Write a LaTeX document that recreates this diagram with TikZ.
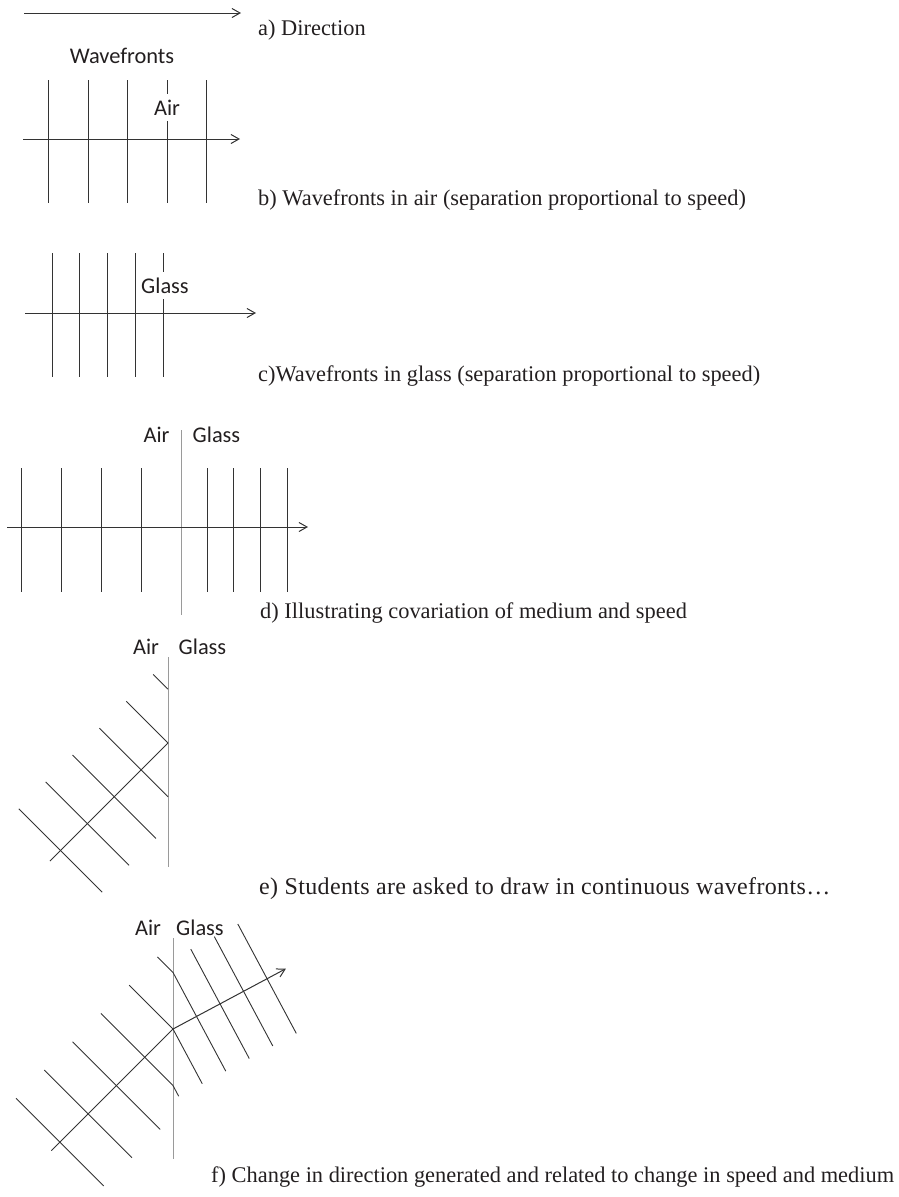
\documentclass[tikz,border=0pt]{standalone}
\usepackage{fontspec}
\setmainfont{Liberation Serif}
\newfontfamily\spacedserif[LetterSpace=1.5]{Liberation Serif}
\newfontfamily\labelsans{Carlito}
\usetikzlibrary{arrows.meta}
\definecolor{ink}{HTML}{231F20}
\definecolor{wave}{HTML}{333333}
\definecolor{bnd}{HTML}{9A9A9A}
\begin{document}
\begin{tikzpicture}[x=1pt,y=-1pt,
  wavefront/.style={draw=wave, line width=0.9pt},
  boundary/.style={draw=bnd, line width=0.9pt},
  ray/.style={draw=wave, line width=1pt},
  arrowray/.style={ray, -{Straight Barb[length=8pt,width=9pt]}},
  caption/.style={anchor=base west, text=ink, font=\fontsize{22.4}{26}\selectfont, inner sep=0pt},
  spacedcaption/.style={caption, font=\spacedserif\fontsize{24}{28}\selectfont},
  medium/.style={anchor=base, text=ink, font=\labelsans\fontsize{22.4}{26}\selectfont, inner sep=0pt},
  gaplabel/.style={medium, fill=white, text height=15pt, text depth=0pt, inner xsep=2pt, inner ysep=6pt}]
\useasboundingbox (0,0) rectangle (899,1197);

% ---------- a) ----------
\coordinate (a0) at (24,13);
\coordinate (a1) at (241,13);
\draw[arrowray] (a0) -- (a1);
\node[caption] (capa) at (258,35) {a) Direction};

% ---------- b) ----------
\node[medium] (wfb) at (122,63) {Wavefronts};
\foreach \x in {48.5,88,127.5,167,206.5} \draw[wavefront] (\x,80) -- (\x,203);
\coordinate (b0) at (23,139);
\coordinate (b1) at (240,139);
\draw[arrowray] (b0) -- (b1);
\node[gaplabel] (airb) at (167,115) {Air};
\node[caption] (capb) at (258,205) {b) Wavefronts in air (separation proportional to speed)};

% ---------- c) ----------
\foreach \x in {52,79.75,107.5,135.25,163} \draw[wavefront] (\x,253) -- (\x,377);
\coordinate (c0) at (25,313);
\coordinate (c1) at (256,313);
\draw[arrowray] (c0) -- (c1);
\node[gaplabel] (glassc) at (165,293) {Glass};
\node[caption] (capc) at (258,381) {c)Wavefronts in glass (separation proportional to speed)};

% ---------- d) ----------
\draw[boundary] (181,430) -- (181,615);
\foreach \x in {21,61,101,141,207,233.7,260.3,287} \draw[wavefront] (\x,468) -- (\x,592);
\coordinate (d0) at (7,527);
\coordinate (d1) at (308,527);
\draw[arrowray] (d0) -- (d1);
\node[medium] (aird) at (156.5,442) {Air};
\node[medium] (glassd) at (216.5,442) {Glass};
\node[caption] (capd) at (260,618) {d) Illustrating covariation of medium and speed};

% ---------- e) ----------
\draw[boundary] (168,657) -- (168,867);
\coordinate (eO) at (168,743);
\coordinate (eS) at (49.91,861.09);
\draw[ray] (eS) -- (eO);
\draw[wavefront] (153.15,674.41) -- (168,689.13);
\draw[wavefront] (126.28,701.28) -- (eO);
\draw[wavefront] (99.41,728.15) -- (168,796.74);
\draw[wavefront] (72.54,755.02) -- (155.98,838.46);
\draw[wavefront] (45.67,781.89) -- (129.11,865.33);
\draw[wavefront] (18.80,808.76) -- (102.24,892.20);
\node[medium] (aire) at (146,654) {Air};
\node[medium] (glasse) at (202.5,654) {Glass};
\node[spacedcaption] (cape) at (259,894) {e) Students are asked to draw in continuous wavefronts\ldots};

% ---------- f) ----------
\draw[boundary] (173,938) -- (173,1159);
\coordinate (fO) at (173,1029);
\coordinate (fS) at (51.38,1150.62);
\coordinate (fT) at (285.89,968.66);
\draw[ray] (fS) -- (fO);
\draw[arrowray] (fO) -- (fT);
% air parts (and bent continuations)
\draw[wavefront] (157.44,956.88) -- (173,972.44) -- (225.75,1071.11);
\draw[wavefront] (129.16,985.16) -- (fO) -- (202.23,1083.68);
\draw[wavefront] (100.88,1013.44) -- (173,1085.56) -- (178.71,1096.25);
\draw[wavefront] (72.59,1041.73) -- (160.27,1129.41);
\draw[wavefront] (44.31,1070.01) -- (131.99,1157.69);
\draw[wavefront] (16.02,1098.30) -- (103.70,1185.98);
% glass wavefronts
\draw[wavefront] (190.81,949.18) -- (249.27,1058.54);
\draw[wavefront] (214.32,936.61) -- (272.78,1045.97);
\draw[wavefront] (237.84,924.04) -- (296.30,1033.40);
\node[medium] (airf) at (148,935) {Air};
\node[medium] (glassf) at (200,935) {Glass};
\node[caption] (capf) at (211,1182) {f) Change in direction generated and related to change in speed and medium};
\end{tikzpicture}
\end{document}
